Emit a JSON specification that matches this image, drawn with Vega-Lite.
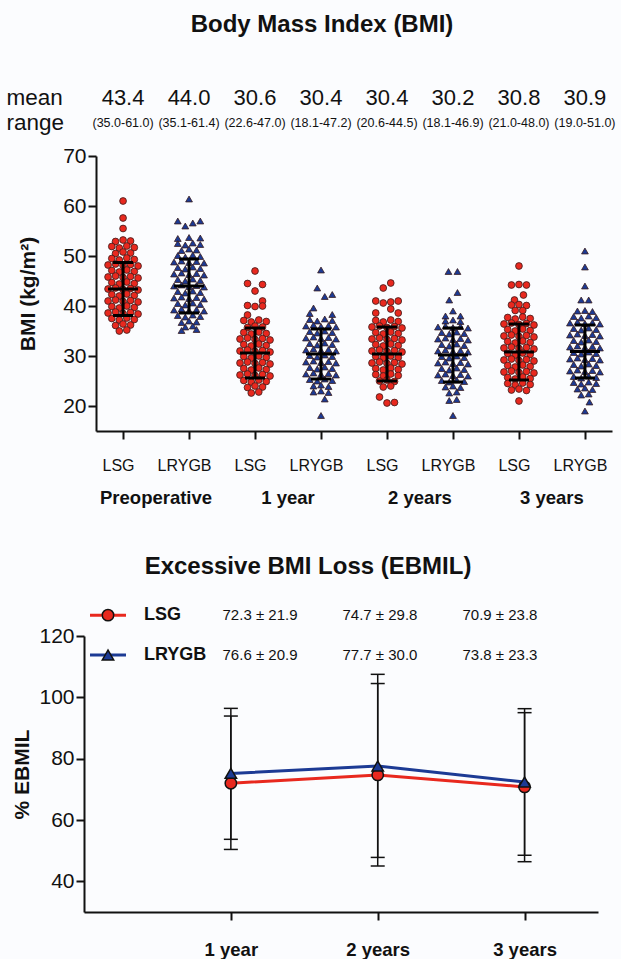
{
"$schema":"https://vega.github.io/schema/vega-lite/v6.json",
"background":"#fbfcfe",
"padding":{"left":6,"top":13,"right":5,"bottom":0},
"spacing":10,
"config":{"font":"Liberation Sans","view":{"stroke":null},"title":{"font":"Liberation Sans","color":"#111"},"axis":{"domainColor":"#111","tickColor":"#111","labelColor":"#111","titleColor":"#111","grid":false,"labelFont":"Liberation Sans","titleFont":"Liberation Sans"},"text":{"color":"#111"}},
"datasets":{
"stats":[{"g":"P-LSG","m":43.4,"lo":38.1,"hi":48.7,"r":"(35.0-61.0)"},{"g":"P-LRYGB","m":44.0,"lo":38.6,"hi":49.4,"r":"(35.1-61.4)"},{"g":"1-LSG","m":30.6,"lo":25.6,"hi":35.6,"r":"(22.6-47.0)"},{"g":"1-LRYGB","m":30.4,"lo":25.4,"hi":35.4,"r":"(18.1-47.2)"},{"g":"2-LSG","m":30.4,"lo":25.0,"hi":35.8,"r":"(20.6-44.5)"},{"g":"2-LRYGB","m":30.2,"lo":24.8,"hi":35.6,"r":"(18.1-46.9)"},{"g":"3-LSG","m":30.8,"lo":25.2,"hi":36.4,"r":"(21.0-48.0)"},{"g":"3-LRYGB","m":30.9,"lo":25.6,"hi":36.2,"r":"(19.0-51.0)"}],
"eb":[{"s":"LSG","yr":1,"m":72.0,"lo":50.4,"hi":93.9,"t":"72.3 ± 21.9"},{"s":"LSG","yr":2,"m":74.7,"lo":45.0,"hi":104.5,"t":"74.7 ± 29.8"},{"s":"LSG","yr":3,"m":70.8,"lo":46.4,"hi":95.0,"t":"70.9 ± 23.8"},{"s":"LRYGB","yr":1,"m":75.2,"lo":53.7,"hi":96.4,"t":"76.6 ± 20.9"},{"s":"LRYGB","yr":2,"m":77.6,"lo":47.8,"hi":107.5,"t":"77.7 ± 30.0"},{"s":"LRYGB","yr":3,"m":72.4,"lo":48.5,"hi":96.3,"t":"73.8 ± 23.3"}],
"pts":[
{"g":"P-LSG","v":61.0,"c":0},{"g":"P-LSG","v":57.6,"c":0},{"g":"P-LSG","v":55.5,"c":0},
{"g":"P-LSG","v":52.9,"c":-1},{"g":"P-LSG","v":53.2,"c":0},{"g":"P-LSG","v":53.0,"c":1},
{"g":"P-LSG","v":51.9,"c":-1.5},{"g":"P-LSG","v":51.6,"c":-0.5},{"g":"P-LSG","v":52.0,"c":0.5},{"g":"P-LSG","v":51.7,"c":1.5},
{"g":"P-LSG","v":50.5,"c":-1},{"g":"P-LSG","v":50.8,"c":0},{"g":"P-LSG","v":50.6,"c":1},
{"g":"P-LSG","v":49.5,"c":-1.5},{"g":"P-LSG","v":49.2,"c":-0.5},{"g":"P-LSG","v":49.6,"c":0.5},{"g":"P-LSG","v":49.3,"c":1.5},
{"g":"P-LSG","v":48.2,"c":-2},{"g":"P-LSG","v":48.4,"c":-1},{"g":"P-LSG","v":48.1,"c":0},{"g":"P-LSG","v":48.3,"c":1},{"g":"P-LSG","v":48.0,"c":2},
{"g":"P-LSG","v":47.1,"c":-1.5},{"g":"P-LSG","v":46.8,"c":-0.5},{"g":"P-LSG","v":47.2,"c":0.5},{"g":"P-LSG","v":46.9,"c":1.5},
{"g":"P-LSG","v":45.8,"c":-2},{"g":"P-LSG","v":46.0,"c":-1},{"g":"P-LSG","v":45.7,"c":0},{"g":"P-LSG","v":45.9,"c":1},{"g":"P-LSG","v":45.6,"c":2},
{"g":"P-LSG","v":44.7,"c":-1.5},{"g":"P-LSG","v":44.4,"c":-0.5},{"g":"P-LSG","v":44.8,"c":0.5},{"g":"P-LSG","v":44.5,"c":1.5},
{"g":"P-LSG","v":43.4,"c":-2},{"g":"P-LSG","v":43.6,"c":-1},{"g":"P-LSG","v":43.3,"c":0},{"g":"P-LSG","v":43.5,"c":1},{"g":"P-LSG","v":43.2,"c":2},
{"g":"P-LSG","v":42.3,"c":-1.5},{"g":"P-LSG","v":42.0,"c":-0.5},{"g":"P-LSG","v":42.4,"c":0.5},{"g":"P-LSG","v":42.1,"c":1.5},
{"g":"P-LSG","v":41.0,"c":-2},{"g":"P-LSG","v":41.2,"c":-1},{"g":"P-LSG","v":40.9,"c":0},{"g":"P-LSG","v":41.1,"c":1},{"g":"P-LSG","v":40.8,"c":2},
{"g":"P-LSG","v":39.9,"c":-1.5},{"g":"P-LSG","v":39.6,"c":-0.5},{"g":"P-LSG","v":40.0,"c":0.5},{"g":"P-LSG","v":39.7,"c":1.5},
{"g":"P-LSG","v":38.6,"c":-2},{"g":"P-LSG","v":38.8,"c":-1},{"g":"P-LSG","v":38.5,"c":0},{"g":"P-LSG","v":38.7,"c":1},{"g":"P-LSG","v":38.4,"c":2},
{"g":"P-LSG","v":37.5,"c":-1.5},{"g":"P-LSG","v":37.2,"c":-0.5},{"g":"P-LSG","v":37.6,"c":0.5},{"g":"P-LSG","v":37.3,"c":1.5},
{"g":"P-LSG","v":36.1,"c":-1},{"g":"P-LSG","v":36.4,"c":0},{"g":"P-LSG","v":36.2,"c":1},
{"g":"P-LSG","v":35.0,"c":-0.5},{"g":"P-LSG","v":35.2,"c":0.5},
{"g":"P-LRYGB","v":61.4,"c":0},
{"g":"P-LRYGB","v":57.0,"c":-1.5},{"g":"P-LRYGB","v":56.0,"c":-0.5},{"g":"P-LRYGB","v":56.6,"c":0.5},{"g":"P-LRYGB","v":57.0,"c":1.5},
{"g":"P-LRYGB","v":53.5,"c":-1.5},{"g":"P-LRYGB","v":53.7,"c":0},{"g":"P-LRYGB","v":53.6,"c":1.5},
{"g":"P-LRYGB","v":52.5,"c":-1.5},{"g":"P-LRYGB","v":52.2,"c":-0.5},{"g":"P-LRYGB","v":52.6,"c":0.5},{"g":"P-LRYGB","v":52.3,"c":1.5},
{"g":"P-LRYGB","v":51.1,"c":-1},{"g":"P-LRYGB","v":51.4,"c":0},{"g":"P-LRYGB","v":51.2,"c":1},
{"g":"P-LRYGB","v":50.1,"c":-1.5},{"g":"P-LRYGB","v":49.8,"c":-0.5},{"g":"P-LRYGB","v":50.2,"c":0.5},{"g":"P-LRYGB","v":49.9,"c":1.5},
{"g":"P-LRYGB","v":48.8,"c":-2},{"g":"P-LRYGB","v":49.0,"c":-1},{"g":"P-LRYGB","v":48.7,"c":0},{"g":"P-LRYGB","v":48.9,"c":1},{"g":"P-LRYGB","v":48.6,"c":2},
{"g":"P-LRYGB","v":47.7,"c":-1.5},{"g":"P-LRYGB","v":47.4,"c":-0.5},{"g":"P-LRYGB","v":47.8,"c":0.5},{"g":"P-LRYGB","v":47.5,"c":1.5},
{"g":"P-LRYGB","v":46.4,"c":-2},{"g":"P-LRYGB","v":46.6,"c":-1},{"g":"P-LRYGB","v":46.3,"c":0},{"g":"P-LRYGB","v":46.5,"c":1},{"g":"P-LRYGB","v":46.2,"c":2},
{"g":"P-LRYGB","v":45.3,"c":-1.5},{"g":"P-LRYGB","v":45.0,"c":-0.5},{"g":"P-LRYGB","v":45.4,"c":0.5},{"g":"P-LRYGB","v":45.1,"c":1.5},
{"g":"P-LRYGB","v":44.0,"c":-2},{"g":"P-LRYGB","v":44.2,"c":-1},{"g":"P-LRYGB","v":43.9,"c":0},{"g":"P-LRYGB","v":44.1,"c":1},{"g":"P-LRYGB","v":43.8,"c":2},
{"g":"P-LRYGB","v":42.9,"c":-1.5},{"g":"P-LRYGB","v":42.6,"c":-0.5},{"g":"P-LRYGB","v":43.0,"c":0.5},{"g":"P-LRYGB","v":42.7,"c":1.5},
{"g":"P-LRYGB","v":41.6,"c":-2},{"g":"P-LRYGB","v":41.8,"c":-1},{"g":"P-LRYGB","v":41.5,"c":0},{"g":"P-LRYGB","v":41.7,"c":1},{"g":"P-LRYGB","v":41.4,"c":2},
{"g":"P-LRYGB","v":40.5,"c":-1.5},{"g":"P-LRYGB","v":40.2,"c":-0.5},{"g":"P-LRYGB","v":40.6,"c":0.5},{"g":"P-LRYGB","v":40.3,"c":1.5},
{"g":"P-LRYGB","v":39.2,"c":-2},{"g":"P-LRYGB","v":39.4,"c":-1},{"g":"P-LRYGB","v":39.1,"c":0},{"g":"P-LRYGB","v":39.3,"c":1},{"g":"P-LRYGB","v":39.0,"c":2},
{"g":"P-LRYGB","v":38.1,"c":-1.5},{"g":"P-LRYGB","v":37.8,"c":-0.5},{"g":"P-LRYGB","v":38.2,"c":0.5},{"g":"P-LRYGB","v":37.9,"c":1.5},
{"g":"P-LRYGB","v":36.7,"c":-1},{"g":"P-LRYGB","v":37.0,"c":0},{"g":"P-LRYGB","v":36.8,"c":1},
{"g":"P-LRYGB","v":35.8,"c":-0.5},{"g":"P-LRYGB","v":36.0,"c":0.5},
{"g":"P-LRYGB","v":35.1,"c":-1},{"g":"P-LRYGB","v":35.3,"c":1},
{"g":"1-LSG","v":47.0,"c":0},{"g":"1-LSG","v":44.5,"c":-1},{"g":"1-LSG","v":44.3,"c":1},{"g":"1-LSG","v":43.0,"c":0},{"g":"1-LSG","v":41.0,"c":1},
{"g":"1-LSG","v":40.1,"c":-1},{"g":"1-LSG","v":39.9,"c":0},{"g":"1-LSG","v":40.0,"c":1},{"g":"1-LSG","v":38.2,"c":-1},
{"g":"1-LSG","v":37.1,"c":-1.5},{"g":"1-LSG","v":36.8,"c":-0.5},{"g":"1-LSG","v":37.2,"c":0.5},{"g":"1-LSG","v":36.9,"c":1.5},
{"g":"1-LSG","v":35.7,"c":-1},{"g":"1-LSG","v":36.0,"c":0},{"g":"1-LSG","v":35.8,"c":1},
{"g":"1-LSG","v":34.7,"c":-1.5},{"g":"1-LSG","v":34.4,"c":-0.5},{"g":"1-LSG","v":34.8,"c":0.5},{"g":"1-LSG","v":34.5,"c":1.5},
{"g":"1-LSG","v":33.4,"c":-2},{"g":"1-LSG","v":33.6,"c":-1},{"g":"1-LSG","v":33.3,"c":0},{"g":"1-LSG","v":33.5,"c":1},{"g":"1-LSG","v":33.2,"c":2},
{"g":"1-LSG","v":32.3,"c":-1.5},{"g":"1-LSG","v":32.0,"c":-0.5},{"g":"1-LSG","v":32.4,"c":0.5},{"g":"1-LSG","v":32.1,"c":1.5},
{"g":"1-LSG","v":31.0,"c":-2},{"g":"1-LSG","v":31.2,"c":-1},{"g":"1-LSG","v":30.9,"c":0},{"g":"1-LSG","v":31.1,"c":1},{"g":"1-LSG","v":30.8,"c":2},
{"g":"1-LSG","v":29.9,"c":-1.5},{"g":"1-LSG","v":29.6,"c":-0.5},{"g":"1-LSG","v":30.0,"c":0.5},{"g":"1-LSG","v":29.7,"c":1.5},
{"g":"1-LSG","v":28.6,"c":-2},{"g":"1-LSG","v":28.8,"c":-1},{"g":"1-LSG","v":28.5,"c":0},{"g":"1-LSG","v":28.7,"c":1},{"g":"1-LSG","v":28.4,"c":2},
{"g":"1-LSG","v":27.5,"c":-1.5},{"g":"1-LSG","v":27.2,"c":-0.5},{"g":"1-LSG","v":27.6,"c":0.5},{"g":"1-LSG","v":27.3,"c":1.5},
{"g":"1-LSG","v":26.2,"c":-2},{"g":"1-LSG","v":26.4,"c":-1},{"g":"1-LSG","v":26.1,"c":0},{"g":"1-LSG","v":26.3,"c":1},{"g":"1-LSG","v":26.0,"c":2},
{"g":"1-LSG","v":25.1,"c":-1.5},{"g":"1-LSG","v":24.8,"c":-0.5},{"g":"1-LSG","v":25.2,"c":0.5},{"g":"1-LSG","v":24.9,"c":1.5},
{"g":"1-LSG","v":23.7,"c":-1},{"g":"1-LSG","v":24.0,"c":0},{"g":"1-LSG","v":23.8,"c":1},
{"g":"1-LSG","v":22.6,"c":-0.5},{"g":"1-LSG","v":22.8,"c":0.5},
{"g":"1-LRYGB","v":47.2,"c":0},{"g":"1-LRYGB","v":43.6,"c":-0.5},{"g":"1-LRYGB","v":41.9,"c":0.5},{"g":"1-LRYGB","v":42.3,"c":1.5},{"g":"1-LRYGB","v":39.6,"c":-1},
{"g":"1-LRYGB","v":38.5,"c":-1.5},{"g":"1-LRYGB","v":38.3,"c":1.5},
{"g":"1-LRYGB","v":37.3,"c":-1.5},{"g":"1-LRYGB","v":37.0,"c":-0.5},{"g":"1-LRYGB","v":37.4,"c":0.5},{"g":"1-LRYGB","v":37.1,"c":1.5},
{"g":"1-LRYGB","v":36.0,"c":-2},{"g":"1-LRYGB","v":36.2,"c":-1},{"g":"1-LRYGB","v":35.9,"c":0},{"g":"1-LRYGB","v":36.1,"c":1},{"g":"1-LRYGB","v":35.8,"c":2},
{"g":"1-LRYGB","v":34.9,"c":-1.5},{"g":"1-LRYGB","v":34.6,"c":-0.5},{"g":"1-LRYGB","v":35.0,"c":0.5},{"g":"1-LRYGB","v":34.7,"c":1.5},
{"g":"1-LRYGB","v":33.6,"c":-2},{"g":"1-LRYGB","v":33.8,"c":-1},{"g":"1-LRYGB","v":33.5,"c":0},{"g":"1-LRYGB","v":33.7,"c":1},{"g":"1-LRYGB","v":33.4,"c":2},
{"g":"1-LRYGB","v":32.5,"c":-1.5},{"g":"1-LRYGB","v":32.2,"c":-0.5},{"g":"1-LRYGB","v":32.6,"c":0.5},{"g":"1-LRYGB","v":32.3,"c":1.5},
{"g":"1-LRYGB","v":31.2,"c":-2},{"g":"1-LRYGB","v":31.4,"c":-1},{"g":"1-LRYGB","v":31.1,"c":0},{"g":"1-LRYGB","v":31.3,"c":1},{"g":"1-LRYGB","v":31.0,"c":2},
{"g":"1-LRYGB","v":30.1,"c":-1.5},{"g":"1-LRYGB","v":29.8,"c":-0.5},{"g":"1-LRYGB","v":30.2,"c":0.5},{"g":"1-LRYGB","v":29.9,"c":1.5},
{"g":"1-LRYGB","v":28.8,"c":-2},{"g":"1-LRYGB","v":29.0,"c":-1},{"g":"1-LRYGB","v":28.7,"c":0},{"g":"1-LRYGB","v":28.9,"c":1},{"g":"1-LRYGB","v":28.6,"c":2},
{"g":"1-LRYGB","v":27.7,"c":-1.5},{"g":"1-LRYGB","v":27.4,"c":-0.5},{"g":"1-LRYGB","v":27.8,"c":0.5},{"g":"1-LRYGB","v":27.5,"c":1.5},
{"g":"1-LRYGB","v":26.4,"c":-2},{"g":"1-LRYGB","v":26.6,"c":-1},{"g":"1-LRYGB","v":26.3,"c":0},{"g":"1-LRYGB","v":26.5,"c":1},{"g":"1-LRYGB","v":26.2,"c":2},
{"g":"1-LRYGB","v":25.3,"c":-1.5},{"g":"1-LRYGB","v":25.0,"c":-0.5},{"g":"1-LRYGB","v":25.4,"c":0.5},{"g":"1-LRYGB","v":25.1,"c":1.5},
{"g":"1-LRYGB","v":24.0,"c":-1},{"g":"1-LRYGB","v":24.2,"c":0},{"g":"1-LRYGB","v":23.9,"c":1},
{"g":"1-LRYGB","v":22.8,"c":-1},{"g":"1-LRYGB","v":23.0,"c":0},{"g":"1-LRYGB","v":22.7,"c":1},
{"g":"1-LRYGB","v":21.4,"c":0.5},{"g":"1-LRYGB","v":18.1,"c":0},
{"g":"2-LSG","v":44.6,"c":0.5},{"g":"2-LSG","v":43.6,"c":-0.5},
{"g":"2-LSG","v":41.0,"c":-1.5},{"g":"2-LSG","v":40.6,"c":-0.5},{"g":"2-LSG","v":40.8,"c":0.5},{"g":"2-LSG","v":41.0,"c":1.5},
{"g":"2-LSG","v":39.4,"c":0.5},{"g":"2-LSG","v":38.6,"c":-1.5},{"g":"2-LSG","v":38.6,"c":1.5},
{"g":"2-LSG","v":37.1,"c":-1.5},{"g":"2-LSG","v":36.8,"c":-0.5},{"g":"2-LSG","v":37.2,"c":0.5},{"g":"2-LSG","v":36.9,"c":1.5},
{"g":"2-LSG","v":35.8,"c":-2},{"g":"2-LSG","v":36.0,"c":-1},{"g":"2-LSG","v":35.7,"c":0},{"g":"2-LSG","v":35.9,"c":1},{"g":"2-LSG","v":35.6,"c":2},
{"g":"2-LSG","v":34.7,"c":-1.5},{"g":"2-LSG","v":34.4,"c":-0.5},{"g":"2-LSG","v":34.8,"c":0.5},{"g":"2-LSG","v":34.5,"c":1.5},
{"g":"2-LSG","v":33.4,"c":-2},{"g":"2-LSG","v":33.6,"c":-1},{"g":"2-LSG","v":33.3,"c":0},{"g":"2-LSG","v":33.5,"c":1},{"g":"2-LSG","v":33.2,"c":2},
{"g":"2-LSG","v":32.3,"c":-1.5},{"g":"2-LSG","v":32.0,"c":-0.5},{"g":"2-LSG","v":32.4,"c":0.5},{"g":"2-LSG","v":32.1,"c":1.5},
{"g":"2-LSG","v":31.0,"c":-2},{"g":"2-LSG","v":31.2,"c":-1},{"g":"2-LSG","v":30.9,"c":0},{"g":"2-LSG","v":31.1,"c":1},{"g":"2-LSG","v":30.8,"c":2},
{"g":"2-LSG","v":29.9,"c":-1.5},{"g":"2-LSG","v":29.6,"c":-0.5},{"g":"2-LSG","v":30.0,"c":0.5},{"g":"2-LSG","v":29.7,"c":1.5},
{"g":"2-LSG","v":28.6,"c":-2},{"g":"2-LSG","v":28.8,"c":-1},{"g":"2-LSG","v":28.5,"c":0},{"g":"2-LSG","v":28.7,"c":1},{"g":"2-LSG","v":28.4,"c":2},
{"g":"2-LSG","v":27.5,"c":-1.5},{"g":"2-LSG","v":27.2,"c":-0.5},{"g":"2-LSG","v":27.6,"c":0.5},{"g":"2-LSG","v":27.3,"c":1.5},
{"g":"2-LSG","v":26.3,"c":-1.5},{"g":"2-LSG","v":26.0,"c":-0.5},{"g":"2-LSG","v":26.4,"c":0.5},{"g":"2-LSG","v":26.1,"c":1.5},
{"g":"2-LSG","v":25.0,"c":-1},{"g":"2-LSG","v":25.2,"c":0},{"g":"2-LSG","v":24.9,"c":1},
{"g":"2-LSG","v":23.8,"c":-0.5},{"g":"2-LSG","v":24.0,"c":0.5},
{"g":"2-LSG","v":21.8,"c":-1},{"g":"2-LSG","v":20.6,"c":0},{"g":"2-LSG","v":20.7,"c":1},
{"g":"2-LRYGB","v":46.9,"c":-0.6},{"g":"2-LRYGB","v":46.9,"c":0.6},{"g":"2-LRYGB","v":42.7,"c":0.6},{"g":"2-LRYGB","v":41.2,"c":-0.5},{"g":"2-LRYGB","v":39.0,"c":0},
{"g":"2-LRYGB","v":38.0,"c":-1},{"g":"2-LRYGB","v":38.0,"c":1},
{"g":"2-LRYGB","v":37.0,"c":-1},{"g":"2-LRYGB","v":37.2,"c":0},{"g":"2-LRYGB","v":36.9,"c":1},
{"g":"2-LRYGB","v":35.8,"c":-2},{"g":"2-LRYGB","v":36.0,"c":-1},{"g":"2-LRYGB","v":35.7,"c":0},{"g":"2-LRYGB","v":35.9,"c":1},{"g":"2-LRYGB","v":35.6,"c":2},
{"g":"2-LRYGB","v":34.7,"c":-1.5},{"g":"2-LRYGB","v":34.4,"c":-0.5},{"g":"2-LRYGB","v":34.8,"c":0.5},{"g":"2-LRYGB","v":34.5,"c":1.5},
{"g":"2-LRYGB","v":33.4,"c":-2},{"g":"2-LRYGB","v":33.6,"c":-1},{"g":"2-LRYGB","v":33.3,"c":0},{"g":"2-LRYGB","v":33.5,"c":1},{"g":"2-LRYGB","v":33.2,"c":2},
{"g":"2-LRYGB","v":32.3,"c":-1.5},{"g":"2-LRYGB","v":32.0,"c":-0.5},{"g":"2-LRYGB","v":32.4,"c":0.5},{"g":"2-LRYGB","v":32.1,"c":1.5},
{"g":"2-LRYGB","v":31.0,"c":-2},{"g":"2-LRYGB","v":31.2,"c":-1},{"g":"2-LRYGB","v":30.9,"c":0},{"g":"2-LRYGB","v":31.1,"c":1},{"g":"2-LRYGB","v":30.8,"c":2},
{"g":"2-LRYGB","v":29.9,"c":-1.5},{"g":"2-LRYGB","v":29.6,"c":-0.5},{"g":"2-LRYGB","v":30.0,"c":0.5},{"g":"2-LRYGB","v":29.7,"c":1.5},
{"g":"2-LRYGB","v":28.6,"c":-2},{"g":"2-LRYGB","v":28.8,"c":-1},{"g":"2-LRYGB","v":28.5,"c":0},{"g":"2-LRYGB","v":28.7,"c":1},{"g":"2-LRYGB","v":28.4,"c":2},
{"g":"2-LRYGB","v":27.5,"c":-1.5},{"g":"2-LRYGB","v":27.2,"c":-0.5},{"g":"2-LRYGB","v":27.6,"c":0.5},{"g":"2-LRYGB","v":27.3,"c":1.5},
{"g":"2-LRYGB","v":26.2,"c":-2},{"g":"2-LRYGB","v":26.4,"c":-1},{"g":"2-LRYGB","v":26.1,"c":0},{"g":"2-LRYGB","v":26.3,"c":1},{"g":"2-LRYGB","v":26.0,"c":2},
{"g":"2-LRYGB","v":25.1,"c":-1.5},{"g":"2-LRYGB","v":24.8,"c":-0.5},{"g":"2-LRYGB","v":25.2,"c":0.5},{"g":"2-LRYGB","v":24.9,"c":1.5},
{"g":"2-LRYGB","v":23.8,"c":-1},{"g":"2-LRYGB","v":24.0,"c":0},{"g":"2-LRYGB","v":23.7,"c":1},
{"g":"2-LRYGB","v":22.6,"c":-0.5},{"g":"2-LRYGB","v":22.8,"c":0.5},{"g":"2-LRYGB","v":21.1,"c":-0.5},{"g":"2-LRYGB","v":21.3,"c":0.5},{"g":"2-LRYGB","v":18.1,"c":0},
{"g":"3-LSG","v":48.0,"c":0},{"g":"3-LSG","v":44.2,"c":-1},{"g":"3-LSG","v":44.3,"c":0},{"g":"3-LSG","v":44.2,"c":1},{"g":"3-LSG","v":42.2,"c":0.6},{"g":"3-LSG","v":41.2,"c":-0.6},
{"g":"3-LSG","v":40.2,"c":-1},{"g":"3-LSG","v":40.3,"c":0},{"g":"3-LSG","v":40.1,"c":1},{"g":"3-LSG","v":39.1,"c":-0.5},{"g":"3-LSG","v":39.1,"c":0.5},
{"g":"3-LSG","v":37.7,"c":-1.5},{"g":"3-LSG","v":37.4,"c":-0.5},{"g":"3-LSG","v":37.8,"c":0.5},{"g":"3-LSG","v":37.5,"c":1.5},
{"g":"3-LSG","v":36.4,"c":-2},{"g":"3-LSG","v":36.6,"c":-1},{"g":"3-LSG","v":36.3,"c":0},{"g":"3-LSG","v":36.5,"c":1},{"g":"3-LSG","v":36.2,"c":2},
{"g":"3-LSG","v":35.3,"c":-1.5},{"g":"3-LSG","v":35.0,"c":-0.5},{"g":"3-LSG","v":35.4,"c":0.5},{"g":"3-LSG","v":35.1,"c":1.5},
{"g":"3-LSG","v":34.0,"c":-2},{"g":"3-LSG","v":34.2,"c":-1},{"g":"3-LSG","v":33.9,"c":0},{"g":"3-LSG","v":34.1,"c":1},{"g":"3-LSG","v":33.8,"c":2},
{"g":"3-LSG","v":32.9,"c":-1.5},{"g":"3-LSG","v":32.6,"c":-0.5},{"g":"3-LSG","v":33.0,"c":0.5},{"g":"3-LSG","v":32.7,"c":1.5},
{"g":"3-LSG","v":31.6,"c":-2},{"g":"3-LSG","v":31.8,"c":-1},{"g":"3-LSG","v":31.5,"c":0},{"g":"3-LSG","v":31.7,"c":1},{"g":"3-LSG","v":31.4,"c":2},
{"g":"3-LSG","v":30.5,"c":-1.5},{"g":"3-LSG","v":30.2,"c":-0.5},{"g":"3-LSG","v":30.6,"c":0.5},{"g":"3-LSG","v":30.3,"c":1.5},
{"g":"3-LSG","v":29.2,"c":-2},{"g":"3-LSG","v":29.4,"c":-1},{"g":"3-LSG","v":29.1,"c":0},{"g":"3-LSG","v":29.3,"c":1},{"g":"3-LSG","v":29.0,"c":2},
{"g":"3-LSG","v":28.1,"c":-1.5},{"g":"3-LSG","v":27.8,"c":-0.5},{"g":"3-LSG","v":28.2,"c":0.5},{"g":"3-LSG","v":27.9,"c":1.5},
{"g":"3-LSG","v":26.8,"c":-2},{"g":"3-LSG","v":27.0,"c":-1},{"g":"3-LSG","v":26.7,"c":0},{"g":"3-LSG","v":26.9,"c":1},{"g":"3-LSG","v":26.6,"c":2},
{"g":"3-LSG","v":25.7,"c":-1.5},{"g":"3-LSG","v":25.4,"c":-0.5},{"g":"3-LSG","v":25.8,"c":0.5},{"g":"3-LSG","v":25.5,"c":1.5},
{"g":"3-LSG","v":24.5,"c":-1.5},{"g":"3-LSG","v":24.2,"c":-0.5},{"g":"3-LSG","v":24.6,"c":0.5},{"g":"3-LSG","v":24.3,"c":1.5},
{"g":"3-LSG","v":23.2,"c":-1},{"g":"3-LSG","v":23.4,"c":0},{"g":"3-LSG","v":23.1,"c":1},{"g":"3-LSG","v":21.0,"c":0},
{"g":"3-LRYGB","v":51.0,"c":0},{"g":"3-LRYGB","v":47.8,"c":0},{"g":"3-LRYGB","v":44.0,"c":0},{"g":"3-LRYGB","v":41.2,"c":-0.5},{"g":"3-LRYGB","v":41.2,"c":0.5},
{"g":"3-LRYGB","v":39.0,"c":-1},{"g":"3-LRYGB","v":39.1,"c":0},{"g":"3-LRYGB","v":38.9,"c":1},
{"g":"3-LRYGB","v":37.9,"c":-1.5},{"g":"3-LRYGB","v":37.6,"c":-0.5},{"g":"3-LRYGB","v":38.0,"c":0.5},{"g":"3-LRYGB","v":37.7,"c":1.5},
{"g":"3-LRYGB","v":36.6,"c":-2},{"g":"3-LRYGB","v":36.8,"c":-1},{"g":"3-LRYGB","v":36.5,"c":0},{"g":"3-LRYGB","v":36.7,"c":1},{"g":"3-LRYGB","v":36.4,"c":2},
{"g":"3-LRYGB","v":35.5,"c":-1.5},{"g":"3-LRYGB","v":35.2,"c":-0.5},{"g":"3-LRYGB","v":35.6,"c":0.5},{"g":"3-LRYGB","v":35.3,"c":1.5},
{"g":"3-LRYGB","v":34.2,"c":-2},{"g":"3-LRYGB","v":34.4,"c":-1},{"g":"3-LRYGB","v":34.1,"c":0},{"g":"3-LRYGB","v":34.3,"c":1},{"g":"3-LRYGB","v":34.0,"c":2},
{"g":"3-LRYGB","v":33.1,"c":-1.5},{"g":"3-LRYGB","v":32.8,"c":-0.5},{"g":"3-LRYGB","v":33.2,"c":0.5},{"g":"3-LRYGB","v":32.9,"c":1.5},
{"g":"3-LRYGB","v":31.8,"c":-2},{"g":"3-LRYGB","v":32.0,"c":-1},{"g":"3-LRYGB","v":31.7,"c":0},{"g":"3-LRYGB","v":31.9,"c":1},{"g":"3-LRYGB","v":31.6,"c":2},
{"g":"3-LRYGB","v":30.7,"c":-1.5},{"g":"3-LRYGB","v":30.4,"c":-0.5},{"g":"3-LRYGB","v":30.8,"c":0.5},{"g":"3-LRYGB","v":30.5,"c":1.5},
{"g":"3-LRYGB","v":29.4,"c":-2},{"g":"3-LRYGB","v":29.6,"c":-1},{"g":"3-LRYGB","v":29.3,"c":0},{"g":"3-LRYGB","v":29.5,"c":1},{"g":"3-LRYGB","v":29.2,"c":2},
{"g":"3-LRYGB","v":28.3,"c":-1.5},{"g":"3-LRYGB","v":28.0,"c":-0.5},{"g":"3-LRYGB","v":28.4,"c":0.5},{"g":"3-LRYGB","v":28.1,"c":1.5},
{"g":"3-LRYGB","v":27.0,"c":-2},{"g":"3-LRYGB","v":27.2,"c":-1},{"g":"3-LRYGB","v":26.9,"c":0},{"g":"3-LRYGB","v":27.1,"c":1},{"g":"3-LRYGB","v":26.8,"c":2},
{"g":"3-LRYGB","v":25.9,"c":-1.5},{"g":"3-LRYGB","v":25.6,"c":-0.5},{"g":"3-LRYGB","v":26.0,"c":0.5},{"g":"3-LRYGB","v":25.7,"c":1.5},
{"g":"3-LRYGB","v":24.7,"c":-1.5},{"g":"3-LRYGB","v":24.4,"c":-0.5},{"g":"3-LRYGB","v":24.8,"c":0.5},{"g":"3-LRYGB","v":24.5,"c":1.5},
{"g":"3-LRYGB","v":23.4,"c":-1},{"g":"3-LRYGB","v":23.6,"c":0},{"g":"3-LRYGB","v":23.3,"c":1},
{"g":"3-LRYGB","v":22.2,"c":-0.5},{"g":"3-LRYGB","v":22.4,"c":0.5},{"g":"3-LRYGB","v":20.8,"c":0.6},{"g":"3-LRYGB","v":19.0,"c":0}
]},
"vconcat":[
{
"title":{"text":"Body Mass Index (BMI)","fontSize":24,"fontWeight":"bold","offset":48,"anchor":"middle","dx":-32},
"width":516,"height":50,
"data":{"name":"stats"},
"encoding":{"x":{"field":"g","type":"nominal","scale":{"type":"point","domain":["P-LSG","P-LRYGB","1-LSG","1-LRYGB","2-LSG","2-LRYGB","3-LSG","3-LRYGB"],"padding":0.41},"axis":null}},
"layer":[
{"mark":{"type":"text","fontSize":22},"encoding":{"y":{"datum":"mean","type":"nominal","scale":{"domain":["mean","range"]},"axis":{"title":null,"domain":false,"ticks":false,"labelFontSize":22.5,"labelAlign":"left","labelPadding":90}},"text":{"field":"m","type":"quantitative","format":".1f"}}},
{"mark":{"type":"text","fontSize":12.5},"encoding":{"y":{"datum":"range","type":"nominal","scale":{"domain":["mean","range"]}},"text":{"field":"r"}}}
]},
{
"width":516,"height":275,
"encoding":{"x":{"field":"g","type":"nominal","scale":{"type":"point","domain":["P-LSG","P-LRYGB","1-LSG","1-LRYGB","2-LSG","2-LRYGB","3-LSG","3-LRYGB"],"padding":0.41},"axis":{"title":null,"labelExpr":"split(datum.value,'-')[1]","labelFontSize":16,"labelAngle":0,"tickSize":8,"labelPadding":18,"labelOffset":-5,"domainWidth":2,"tickWidth":2}}},
"layer":[
{"data":{"name":"pts"},"mark":{"type":"point","filled":true,"size":46,"opacity":1,"stroke":"#3a1d1d","strokeWidth":0.8},
"encoding":{"xOffset":{"field":"c","type":"quantitative","scale":{"domain":[-4,4],"range":[-30,30]}},
"y":{"field":"v","type":"quantitative","title":"BMI (kg/m²)","scale":{"domain":[15,70],"nice":false,"zero":false},"axis":{"values":[20,30,40,50,60,70],"labelFontSize":21,"tickSize":8,"labelPadding":2,"domainWidth":2,"tickWidth":2,"titleFontSize":21,"titleFontWeight":"bold","titlePadding":24}},
"color":{"field":"g","type":"nominal","scale":{"domain":["P-LSG","P-LRYGB","1-LSG","1-LRYGB","2-LSG","2-LRYGB","3-LSG","3-LRYGB"],"range":["#e8281e","#1c3a94","#e8281e","#1c3a94","#e8281e","#1c3a94","#e8281e","#1c3a94"]},"legend":null},
"shape":{"field":"g","type":"nominal","scale":{"domain":["P-LSG","P-LRYGB","1-LSG","1-LRYGB","2-LSG","2-LRYGB","3-LSG","3-LRYGB"],"range":["circle","triangle-up","circle","triangle-up","circle","triangle-up","circle","triangle-up"]},"legend":null}}},
{"data":{"name":"stats"},"mark":{"type":"rule","strokeWidth":3,"color":"#000"},"encoding":{"y":{"field":"lo","type":"quantitative","title":"BMI (kg/m²)"},"y2":{"field":"hi"}}},
{"data":{"name":"stats"},"mark":{"type":"tick","size":20,"thickness":3,"color":"#000","orient":"horizontal","opacity":1},"encoding":{"y":{"field":"lo","type":"quantitative","title":"BMI (kg/m²)"}}},
{"data":{"name":"stats"},"mark":{"type":"tick","size":20,"thickness":3,"color":"#000","orient":"horizontal","opacity":1},"encoding":{"y":{"field":"hi","type":"quantitative","title":"BMI (kg/m²)"}}},
{"data":{"name":"stats"},"mark":{"type":"tick","size":30,"thickness":3,"color":"#000","orient":"horizontal","opacity":1},"encoding":{"y":{"field":"m","type":"quantitative","title":"BMI (kg/m²)"}}},
{"data":{"values":[{"g":"P-LSG","t":"Preoperative"},{"g":"1-LSG","t":"1 year"},{"g":"2-LSG","t":"2 years"},{"g":"3-LSG","t":"3 years"}]},"mark":{"type":"text","fontSize":18.5,"fontWeight":"bold","dx":33},"encoding":{"y":{"datum":1.6,"type":"quantitative","title":"BMI (kg/m²)"},"text":{"field":"t"}}}
]},
{
"title":{"text":[" ","Excessive BMI Loss (EBMIL)"],"lineHeight":37,"fontSize":24,"fontWeight":"bold","offset":27,"anchor":"middle","dx":-39},
"width":502,"height":276,
"resolve":{"scale":{"x":"independent"}},
"layer":[
{"data":{"name":"eb"},
"encoding":{"x":{"field":"yr","type":"quantitative","scale":{"domain":[0,3.5],"range":[-12,502]},"axis":{"values":[1,2,3],"title":null,"labelExpr":"datum.value==1?'1 year':datum.value+' years'","labelFontSize":18.5,"labelFontWeight":"bold","tickSize":8,"labelPadding":20,"domainWidth":2,"tickWidth":2}}},
"layer":[
{"mark":{"type":"line","strokeWidth":3},"encoding":{"y":{"field":"m","type":"quantitative","title":"% EBMIL","scale":{"domain":[30,120],"nice":false,"zero":false},"axis":{"values":[40,60,80,100,120],"offset":12,"labelFontSize":21,"tickSize":8,"labelPadding":2,"domainWidth":2,"tickWidth":2,"titleFontSize":21,"titleFontWeight":"bold","titlePadding":6}},"color":{"field":"s","type":"nominal","scale":{"domain":["LSG","LRYGB"],"range":["#ee3b24","#2440a0"]},"legend":null}}},
{"mark":{"type":"rule","strokeWidth":1.5,"color":"#111"},"encoding":{"y":{"field":"lo","type":"quantitative","title":"% EBMIL"},"y2":{"field":"hi"}}},
{"mark":{"type":"tick","orient":"horizontal","size":14,"thickness":1.5,"color":"#111","opacity":1},"encoding":{"y":{"field":"lo","type":"quantitative","title":"% EBMIL"}}},
{"mark":{"type":"tick","orient":"horizontal","size":14,"thickness":1.5,"color":"#111","opacity":1},"encoding":{"y":{"field":"hi","type":"quantitative","title":"% EBMIL"}}},
{"mark":{"type":"point","filled":true,"opacity":1,"stroke":"#111","strokeWidth":1.5,"size":130},"encoding":{"y":{"field":"m","type":"quantitative","title":"% EBMIL"},"color":{"field":"s","type":"nominal","scale":{"domain":["LSG","LRYGB"],"range":["#ee3b24","#2440a0"]},"legend":null},"shape":{"field":"s","type":"nominal","scale":{"domain":["LSG","LRYGB"],"range":["circle","triangle-up"]},"legend":null}}}
]},
{"data":{"name":"eb"},"transform":[{"filter":"datum.s=='LSG'"}],
"encoding":{"y":{"datum":126.8,"type":"quantitative","title":"% EBMIL"}},
"layer":[
{"transform":[{"filter":"datum.yr==1"}],"mark":{"type":"rule","strokeWidth":3},"encoding":{"x":{"datum":-0.417,"type":"quantitative","scale":{"domain":[-0.367,3.817]},"axis":null},"x2":{"datum":-0.117},"color":{"field":"s","type":"nominal","scale":{"domain":["LSG","LRYGB"],"range":["#ee3b24","#2440a0"]},"legend":null}}},
{"transform":[{"filter":"datum.yr==1"}],"mark":{"type":"point","filled":true,"opacity":1,"stroke":"#111","strokeWidth":1.5,"size":130},"encoding":{"x":{"datum":-0.267,"type":"quantitative","scale":{"domain":[-0.367,3.817]},"axis":null},"color":{"field":"s","type":"nominal","scale":{"domain":["LSG","LRYGB"],"range":["#ee3b24","#2440a0"]},"legend":null},"shape":{"field":"s","type":"nominal","scale":{"domain":["LSG","LRYGB"],"range":["circle","triangle-up"]},"legend":null}}},
{"transform":[{"filter":"datum.yr==1"}],"mark":{"type":"text","align":"left","fontSize":18,"fontWeight":"bold"},"encoding":{"x":{"datum":0.033,"type":"quantitative","scale":{"domain":[-0.367,3.817]},"axis":null},"text":{"field":"s"}}},
{"mark":{"type":"text","fontSize":15},"encoding":{"x":{"field":"yr","type":"quantitative","scale":{"domain":[-0.367,3.817]},"axis":null},"text":{"field":"t"}}}
]},
{"data":{"name":"eb"},"transform":[{"filter":"datum.s=='LRYGB'"}],
"encoding":{"y":{"datum":113.8,"type":"quantitative","title":"% EBMIL"}},
"layer":[
{"transform":[{"filter":"datum.yr==1"}],"mark":{"type":"rule","strokeWidth":3},"encoding":{"x":{"datum":-0.417,"type":"quantitative","scale":{"domain":[-0.367,3.817]},"axis":null},"x2":{"datum":-0.117},"color":{"field":"s","type":"nominal","scale":{"domain":["LSG","LRYGB"],"range":["#ee3b24","#2440a0"]},"legend":null}}},
{"transform":[{"filter":"datum.yr==1"}],"mark":{"type":"point","filled":true,"opacity":1,"stroke":"#111","strokeWidth":1.5,"size":130},"encoding":{"x":{"datum":-0.267,"type":"quantitative","scale":{"domain":[-0.367,3.817]},"axis":null},"color":{"field":"s","type":"nominal","scale":{"domain":["LSG","LRYGB"],"range":["#ee3b24","#2440a0"]},"legend":null},"shape":{"field":"s","type":"nominal","scale":{"domain":["LSG","LRYGB"],"range":["circle","triangle-up"]},"legend":null}}},
{"transform":[{"filter":"datum.yr==1"}],"mark":{"type":"text","align":"left","fontSize":18,"fontWeight":"bold"},"encoding":{"x":{"datum":0.033,"type":"quantitative","scale":{"domain":[-0.367,3.817]},"axis":null},"text":{"field":"s"}}},
{"mark":{"type":"text","fontSize":15},"encoding":{"x":{"field":"yr","type":"quantitative","scale":{"domain":[-0.367,3.817]},"axis":null},"text":{"field":"t"}}}
]}
]}
]
}
